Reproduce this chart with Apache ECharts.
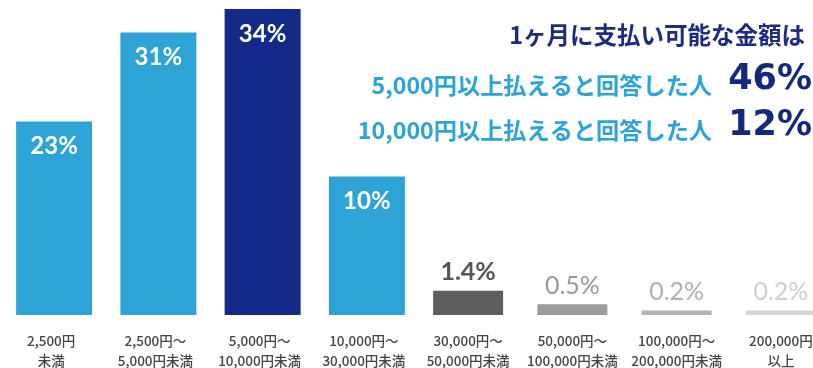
<!DOCTYPE html>
<html>
<head>
<meta charset="utf-8">
<script src="https://cdn.jsdelivr.net/npm/echarts@6/dist/echarts.min.js"></script>
<style>
html,body{margin:0;padding:0;background:#fff;}
#chart{width:813px;height:368px;}
</style>
</head>
<body>
<div id="chart"></div>
<script>
// Categories (monthly affordable amount)
var categories = ['2,500円\n未満', '2,500円〜\n5,000円未満', '5,000円〜\n10,000円未満', '10,000円〜\n30,000円未満',
                  '30,000円〜\n50,000円未満', '50,000円〜\n100,000円未満', '100,000円〜\n200,000円未満', '200,000円\n以上'];
// Share printed on each bar (%)
var sharePercent = [23, 31, 34, 10, 1.4, 0.5, 0.2, 0.2];
// Bar heights as drawn in the infographic (not to scale with the printed shares), same % units
var drawnHeights = [21.5, 31.4, 34, 15.4, 2.7, 1.2, 0.5, 0.5];
// Summary texts
var headline = '1ヶ月に支払い可能な金額は';
var summaryLabels = ['5,000円以上払えると回答した人', '10,000円以上払えると回答した人'];
var summaryValues = ['46%', '12%'];

var barColors = ['#2EA3D5', '#2EA3D5', '#142A88', '#2EA3D5', '#5E5E5E', '#9C9C9C', '#B4B4B4', '#D6D6D6'];
var labelColors = ['#fff', '#fff', '#fff', '#fff', '#555555', '#999999', '#B0B0B0', '#CFCFCF'];
var labelWeights = ['bold', 'bold', 'bold', 'bold', 'bold', 'normal', 'normal', 'normal'];

function fmt(v) { return v + '%'; }

var bigData = [], smallData = [];
for (var i = 0; i < categories.length; i++) {
  var big = i < 4;
  var item = {
    value: drawnHeights[i],
    itemStyle: { color: barColors[i] },
    label: { color: labelColors[i], fontWeight: labelWeights[i] }
  };
  if (big) { bigData.push(item); smallData.push(null); }
  else { smallData.push(item); bigData.push(null); }
}

var chart = echarts.init(document.getElementById('chart'), null, { renderer: 'canvas' });
chart.setOption({
  animation: false,
  grid: { left: -1, top: 9, bottom: 53, width: 834, containLabel: false, outerBoundsMode: 'none' },
  xAxis: {
    type: 'category',
    data: categories,
    axisLine: { show: false },
    axisTick: { show: false },
    axisLabel: {
      margin: 16,
      color: '#444444',
      fontSize: 13.5,
      fontWeight: 500,
      lineHeight: 20,
      fontFamily: '"Noto Sans CJK JP", "Noto Sans", sans-serif',
      interval: 0
    }
  },
  yAxis: { type: 'value', min: 0, max: 34, show: false, splitLine: { show: false } },
  series: [
    {
      type: 'bar',
      data: bigData,
      barWidth: 76,
      barGap: '-100%',
      label: {
        show: true,
        position: 'insideTop',
        distance: 13,
        fontSize: 24,
        fontWeight: 'bold',
        fontFamily: 'Lato, "Open Sans", sans-serif',
        formatter: function (p) { return fmt(sharePercent[p.dataIndex]); }
      }
    },
    {
      type: 'bar',
      data: smallData,
      barWidth: 70,
      barGap: '-100%',
      label: {
        show: true,
        position: 'top',
        distance: 6,
        fontSize: 25,
        fontFamily: 'Lato, "Open Sans", sans-serif',
        formatter: function (p) { return fmt(sharePercent[p.dataIndex]); }
      }
    }
  ],
  graphic: [
    {
      type: 'text', right: 8, top: 23,
      style: { text: headline, fill: '#1E2C80', font: 'bold 23.5px "Noto Sans CJK JP"' }
    },
    {
      type: 'text', right: 101, top: 74,
      style: { text: summaryLabels[0], fill: '#2EA3D5', font: 'bold 23.2px "Noto Sans CJK JP"' }
    },
    {
      type: 'text', right: 101, top: 119,
      style: { text: summaryLabels[1], fill: '#2EA3D5', font: 'bold 23.2px "Noto Sans CJK JP"' }
    },
    {
      type: 'text', right: 1, top: 62,
      style: { text: summaryValues[0], fill: '#14287F', font: 'bold 35px "DejaVu Sans"' }
    },
    {
      type: 'text', right: 1, top: 108,
      style: { text: summaryValues[1], fill: '#14287F', font: 'bold 35px "DejaVu Sans"' }
    }
  ]
});
</script>
</body>
</html>
